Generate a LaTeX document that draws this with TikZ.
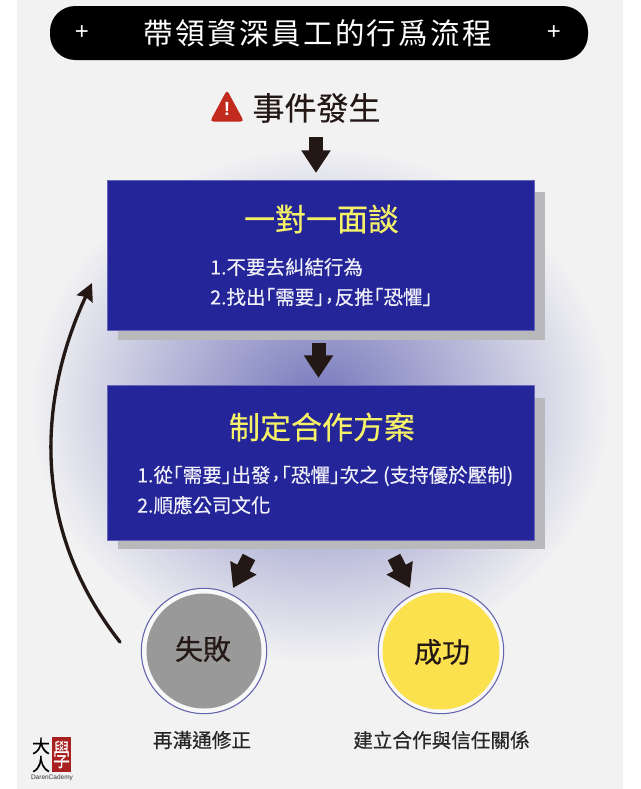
\documentclass[tikz,border=0pt]{standalone}
\usepackage{fontspec}
\setmainfont[FakeBold=0.35]{Noto Sans CJK TC}
\newfontfamily\latinfont{Liberation Sans}
\newfontfamily\thinfont{Noto Sans CJK TC}
\usetikzlibrary{arrows.meta,calc}
\definecolor{pagebg}{HTML}{F2F2F3}
\definecolor{boxblue}{HTML}{25259A}
\definecolor{boxshadow}{HTML}{B9B9BB}
\definecolor{titleyellow}{HTML}{F6F268}
\definecolor{itemwhite}{HTML}{F0F0F8}
\definecolor{arrowdark}{HTML}{231815}
\definecolor{ringblue}{HTML}{6464AE}
\definecolor{glow}{HTML}{7577BB}
\definecolor{warnred}{HTML}{C22A1E}
\definecolor{logored}{HTML}{A8201F}
\definecolor{sunyellow}{HTML}{FBE14E}
\newcommand{\pxfont}[1]{\fontsize{\dimexpr#1pt*3/4\relax}{\dimexpr#1pt\relax}\selectfont}
\newcommand{\lbr}{｢}
\newcommand{\rbr}{｣}
\newcommand{\cma}{\makebox[0.55em][c]{\raisebox{0.22em}{,}}}
\tikzset{
  x=0.75pt,y=-0.75pt,
  blockarrow/.style={draw=arrowdark,line width=10.5pt,-{Triangle[length=17pt,width=21pt]}},
  bluebox/.style={fill=boxblue,draw=boxblue!70!white,line width=0.5pt,inner sep=0pt},
  shadowbox/.style={fill=boxshadow},
  boxtitle/.style={text=titleyellow,font=\pxfont{31},inner sep=0pt},
  boxitem/.style={text=itemwhite,font=\pxfont{19.5},inner sep=0pt,anchor=west},
  outcome/.style={circle,draw=ringblue,line width=0.8pt,minimum size=94pt,inner sep=0pt},
  caption/.style={text=black!85,font=\pxfont{19.6},inner sep=0pt},
  plus/.style={text=white,font=\latinfont\pxfont{24},inner sep=0pt}
}
\begin{document}
\begin{tikzpicture}
\useasboundingbox (0,0) rectangle (640,789);
\fill[white] (0,0) rectangle (640,789);
\fill[pagebg] (17,0) rectangle (623,789);
% glow
\begin{scope}
\clip (17,130) rectangle (623,789);
\shade[inner color=glow,outer color=pagebg] (320,405) ellipse [x radius=290,y radius=258];
\end{scope}
% title bar
\fill[black,rounded corners=19pt] (50,6) rectangle (588,60);
\node[plus] (plusl) at (82,33) {+};
\node[plus] (plusr) at (554,33) {+};
\node[inner sep=0pt,text=white,font=\pxfont{29.5}] (title) at (318,33) {\thinfont\addfontfeatures{LetterSpace=8}帶領資深員工的行爲流程};
% event
\node[inner sep=0pt,font=\pxfont{32},text=arrowdark] (event) at (316.5,108) {事件發生};
\fill[warnred,rounded corners=2.5pt] (227,90) -- (244,121.5) -- (210,121.5) -- cycle;
\node[inner sep=0pt,text=white,font=\latinfont\bfseries\pxfont{19}] (warn) at (227,109) {!};
% boxes
\fill[shadowbox] (118,192) rectangle (545,340);
\fill[shadowbox] (118,398) rectangle (545,549);
\draw[bluebox] (107,180) rectangle (534,330);
\draw[bluebox] (107,385) rectangle (534,540);
\node[boxtitle] (t1) at (321.5,219) {一對一面談};
\node[boxitem] (i11) at (210,267) {1.不要去糾結行為};
\node[boxitem] (i12) at (210,297) {2.找出\lbr 需要\rbr\cma 反推\lbr 恐懼\rbr};
\node[boxtitle] (t2) at (322,427) {制定合作方案};
\node[boxitem] (i21) at (137,476) {1.從\lbr 需要\rbr 出發\cma\lbr 恐懼\rbr 次之 (支持優於壓制)};
\node[boxitem] (i22) at (137,505) {2.順應公司文化};
% outcomes
\node[outcome,fill=pagebg!50!white] (fail) at (204,651) {};
\fill[black!40] (fail) circle (57.5);
\node[inner sep=0pt,font=\pxfont{28},text=arrowdark] (failt) at (203,649) {失敗};
\node[outcome,fill=pagebg!50!white] (succ) at (441,651) {};
\fill[sunyellow] (succ) circle (58.5);
\node[inner sep=0pt,font=\pxfont{28},text=arrowdark] (succt) at (442,652) {成功};
\node[caption] (c1) at (202,740) {再溝通修正};
\node[caption] (c2) at (441.5,740) {建立合作與信任關係};
% block arrows
\coordinate (a1s) at (316,137);
\coordinate (a1e) at (316,173);
\coordinate (a2s) at (318.5,343);
\coordinate (a2e) at (318.5,378);
\coordinate (a3s) at (249,557);
\coordinate (a3e) at (233,588);
\coordinate (a4s) at (394,557);
\coordinate (a4e) at (410,588);
\draw[blockarrow] (a1s) -- (a1e);
\draw[blockarrow] (a2s) -- (a2e);
\draw[blockarrow] (a3s) -- (a3e);
\draw[blockarrow] (a4s) -- (a4e);
% feedback
\coordinate (fbs) at (120,642);
\coordinate (fbe) at (92,283);
\draw[line width=2.5pt,line cap=round,arrowdark,-{Stealth[length=13pt,width=13pt,inset=1.5pt]}] (fbs) .. controls (28,525) and (40,395) .. (fbe);
% logo
\fill[logored] (52,737) rectangle (71,772);
\node[inner sep=0pt,text=white,font=\thinfont\pxfont{17},yscale=1.8,transform shape] (lg) at (61.5,754.5) {學};
\node[inner sep=0pt,text=black,font=\pxfont{18}] (l1) at (41,746) {大};
\node[inner sep=0pt,text=black,font=\pxfont{18}] (l2) at (41,764) {人};
\node[inner sep=0pt,text=black!80,font=\latinfont\pxfont{6.5}] (l3) at (52,777.5) {DarenCademy};
\end{tikzpicture}
\end{document}
